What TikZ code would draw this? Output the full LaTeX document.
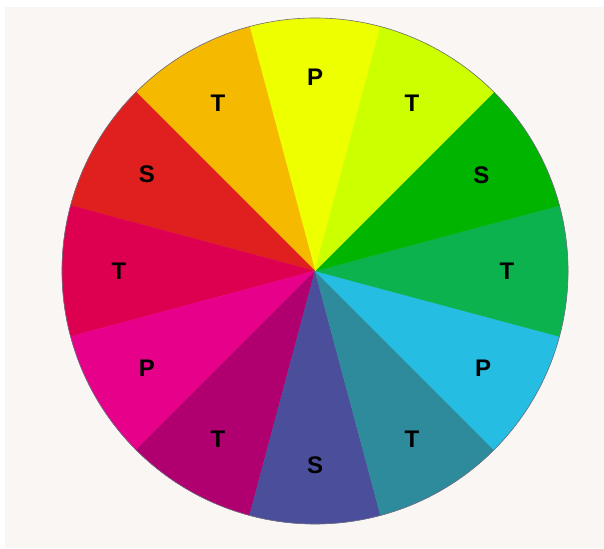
\documentclass[tikz,border=0pt]{standalone}
\usepackage{fontspec}
\setmainfont{Liberation Sans}
\usepackage{tikz}
\usetikzlibrary{
  calc,
  positioning
}
\definecolor{PaperWhite}{RGB}{250,246,243}
\definecolor{RimGray}{RGB}{110,110,130}
\definecolor{WheelYellow}{RGB}{238,255,0}
\definecolor{WheelLime}{RGB}{204,255,0}
\definecolor{WheelGreen}{RGB}{0,180,0}
\definecolor{WheelEmerald}{RGB}{12,178,78}
\definecolor{WheelCyan}{RGB}{38,189,226}
\definecolor{WheelTeal}{RGB}{46,139,156}
\definecolor{WheelIndigo}{RGB}{75,78,155}
\definecolor{WheelPurple}{RGB}{176,0,111}
\definecolor{WheelMagenta}{RGB}{230,0,138}
\definecolor{WheelCrimson}{RGB}{222,0,80}
\definecolor{WheelRed}{RGB}{224,32,30}
\definecolor{WheelOrange}{RGB}{245,185,0}
\tikzset{
  hue/.style={fill=#1,draw=#1,line width=0.3pt},
  rim/.style={draw=RimGray,line width=0.6pt},
  huelabel/.style={font=\bfseries\fontsize{24}{24}\selectfont,text=black,inner sep=0pt}
}

\begin{document}
\begin{tikzpicture}[x=1pt,y=1pt]
\useasboundingbox (0,0) rectangle (604,548);
\fill[white] (0,0) rectangle (604,548);
\fill[PaperWhite] (5,0) rectangle (604,541);
\coordinate (c) at (315,277);

\fill[hue=WheelYellow]  (c) -- ++(75:253)  arc[start angle=75,end angle=105,radius=253] -- cycle;
\fill[hue=WheelOrange]  (c) -- ++(105:253) arc[start angle=105,end angle=135,radius=253] -- cycle;
\fill[hue=WheelRed]     (c) -- ++(135:253) arc[start angle=135,end angle=165,radius=253] -- cycle;
\fill[hue=WheelCrimson] (c) -- ++(165:253) arc[start angle=165,end angle=195,radius=253] -- cycle;
\fill[hue=WheelMagenta] (c) -- ++(195:253) arc[start angle=195,end angle=225,radius=253] -- cycle;
\fill[hue=WheelPurple]  (c) -- ++(225:253) arc[start angle=225,end angle=255,radius=253] -- cycle;
\fill[hue=WheelIndigo]  (c) -- ++(255:253) arc[start angle=255,end angle=285,radius=253] -- cycle;
\fill[hue=WheelTeal]    (c) -- ++(285:253) arc[start angle=285,end angle=315,radius=253] -- cycle;
\fill[hue=WheelCyan]    (c) -- ++(315:253) arc[start angle=315,end angle=345,radius=253] -- cycle;
\fill[hue=WheelEmerald] (c) -- ++(345:253) arc[start angle=345,end angle=375,radius=253] -- cycle;
\fill[hue=WheelGreen]   (c) -- ++(15:253)  arc[start angle=15,end angle=45,radius=253] -- cycle;
\fill[hue=WheelLime]    (c) -- ++(45:253)  arc[start angle=45,end angle=75,radius=253] -- cycle;
\draw[rim] (c) circle[radius=253];

% primary, secondary, tertiary
\node[huelabel] (yellow)  at ($(c)+(90:194)$)  {P};
\node[huelabel] (orange)  at ($(c)+(120:194)$) {T};
\node[huelabel] (red)     at ($(c)+(150:194)$) {S};
\node[huelabel] (crimson) at ($(c)+(180:196)$) {T};
\node[huelabel] (magenta) at ($(c)+(210:194)$) {P};
\node[huelabel] (purple)  at ($(c)+(240:194)$) {T};
\node[huelabel] (indigo)  at ($(c)+(270:194)$) {S};
\node[huelabel] (teal)    at ($(c)+(300:194)$) {T};
\node[huelabel] (cyan)    at ($(c)+(330:194)$) {P};
\node[huelabel] (emerald) at ($(c)+(0:192)$)   {T};
\node[huelabel] (green)   at ($(c)+(30:192)$)  {S};
\node[huelabel] (lime)    at ($(c)+(60:194)$)  {T};
\end{tikzpicture}
\end{document}
